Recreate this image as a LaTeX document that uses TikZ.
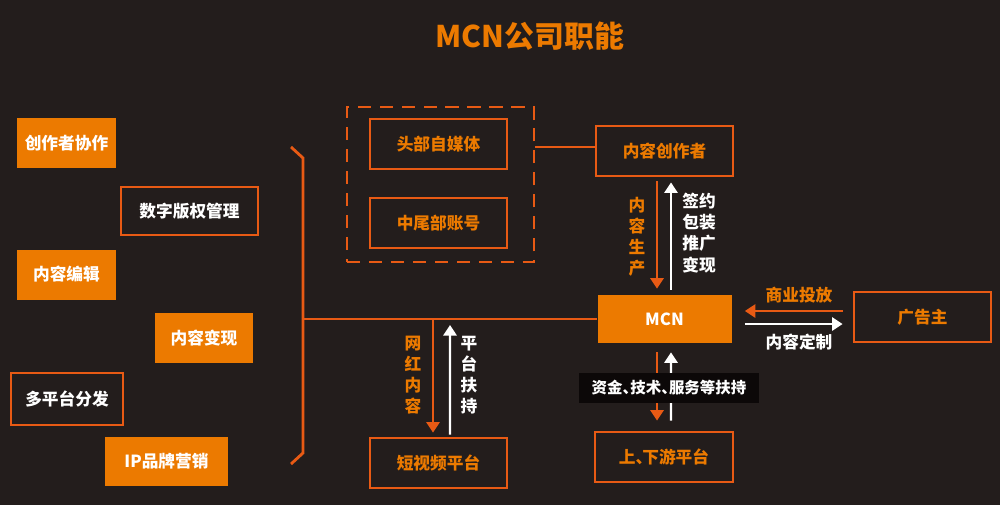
\documentclass[tikz,border=0pt]{standalone}
\usepackage{fontspec}
\setmainfont{Noto Sans CJK SC}
\usetikzlibrary{arrows.meta,calc}
\definecolor{bgdark}{RGB}{35,29,28}
\definecolor{boxor}{RGB}{236,122,0}
\definecolor{lineor}{RGB}{232,90,20}
\definecolor{tagbg}{RGB}{12,8,8}
\newcommand{\dun}[1][0.5em]{、\kern-#1}
\begin{document}
\begin{tikzpicture}[x=0.02cm,y=-0.02cm,
                every node/.style={font=\fontsize{9.5}{12}\selectfont\bfseries, inner sep=0pt},
                fillbox/.style={fill=boxor, text=white, minimum width=#1*0.02cm, minimum height=1cm},
                linebox/.style={draw=lineor, line width=1.6pt, text=white, minimum width=#1*0.02cm, minimum height=1cm},
                orbox/.style={linebox=#1, text=boxor},
                orarr/.style={draw=lineor, line width=1.4pt, -{Triangle[length=6pt,width=7.5pt]}},
                wharr/.style={draw=white, line width=1.4pt, -{Triangle[length=6pt,width=7.5pt]}},
                vlabel/.style={align=center}]
                \fill[bgdark] (0,0) rectangle (1000,505);
                \useasboundingbox (0,0) rectangle (1000,505);
                \node[text=boxor, font=\fontsize{17}{20}\selectfont\bfseries] (title) at (530,36) {MCN公司职能};
                \node[fillbox=99] (c1) at (66.5,143) {创作者协作};
                \node[linebox=137, minimum height=0.96cm] (c2) at (189.5,211) {数字版权管理};
                \node[fillbox=99] (c3) at (66.5,274.5) {内容编辑};
                \node[fillbox=98] (c4) at (204,338) {内容变现};
                \node[linebox=112, minimum height=1.04cm] (c5) at (67,399) {多平台分发};
                \node[fillbox=123, minimum height=0.98cm] (c6) at (166.5,461.5) {IP品牌营销};
                \coordinate (brtop) at (291,147);
                \coordinate (brbot) at (291,464);
                \coordinate (brmid) at (303,319);
                \draw[lineor, line width=1.6pt] (brtop) -- ++(12,11) -- ($(brbot)+(12,-11)$) -- (brbot);
                \node[draw=lineor, line width=1.6pt, dash pattern=on 7.5pt off 5pt, minimum width=3.74cm, minimum height=3.1cm] (grp) at (440.5,184.5) {};
                \node[orbox=137] (hd) at (438.5,144) {头部自媒体};
                \node[orbox=137] (zw) at (438.5,223) {中尾部账号};
                \node[orbox=137] (cc) at (664.5,151) {内容创作者};
                \node[fillbox=134, minimum height=0.96cm] (mcn) at (664.5,319) {MCN};
                \node[orbox=137] (dy) at (438.5,463) {短视频平台};
                \node[orbox=138] (ud) at (664,457) {上\dun[0.6em]下游平台};
                \node[orbox=137] (gg) at (922.5,317) {广告主};
                \draw[lineor, line width=1.6pt] (brmid) -- (mcn.west);
                \draw[lineor, line width=1.6pt] (grp.east |- 0,147) -- (cc.west |- 0,147);
                \draw[orarr] ($(cc.south)+(-7.5,4)$) -- ($(mcn.north)+(-7.5,-6)$);
                \draw[wharr] ($(mcn.north)+(6.5,-5)$) -- ($(cc.south)+(6.5,5)$);
                \node[vlabel, text=boxor] (lbsc) at (637,237) {内\\容\\生\\产};
                \node[vlabel, text=white] (lbqy) at (699,233) {签约\\包装\\推广\\变现};
                \coordinate (jn) at (433,319);
                \draw[orarr] (jn) -- ($(jn |- dy.north)+(0,-4)$);
                \draw[wharr] ($(dy.north)+(11.5,-2)$) -- ($(jn)+(17,6)$);
                \node[vlabel, text=boxor] (lbwh) at (413,375) {网\\红\\内\\容};
                \node[vlabel, text=white] (lbpt) at (469,375) {平\\台\\扶\\持};
                \draw[orarr] ($(mcn.south)+(-7.5,9)$) -- ($(ud.north)+(-7,-10)$);
                \draw[wharr] ($(ud.north)+(7,-10)$) -- ($(mcn.south)+(6.5,9)$);
                \node[fill=tagbg, text=white, font=\fontsize{8.8}{10}\selectfont\bfseries, minimum width=3.6cm, minimum height=0.6cm] (lbzj) at (669,388) {资金\dun 技术\dun 服务等扶持};
                \draw[orarr] ($(gg.west)+(-10,-6)$) -- ($(mcn.east)+(13,-8)$);
                \draw[wharr] ($(mcn.east)+(13,5)$) -- ($(gg.west)+(-10,7)$);
                \node[text=boxor] (lbsy) at (799,295) {商业投放};
                \node[text=white] (lbdz) at (799,342) {内容定制};
\end{tikzpicture}
\end{document}
